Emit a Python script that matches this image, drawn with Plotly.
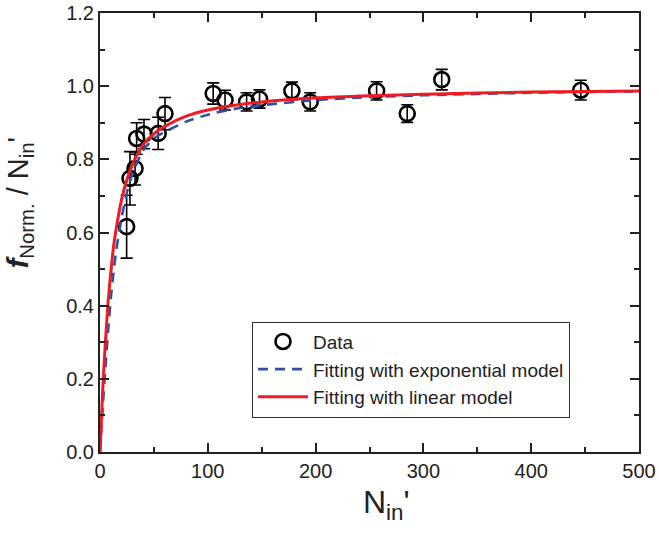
import plotly.graph_objects as go

# Measured data
n_in = [24.7, 27.8, 32.5, 34.0, 40.8, 54.0, 60.3, 105, 116, 136, 148, 178, 195, 256.6, 285, 317, 446]
f_norm = [0.616, 0.748, 0.775, 0.857, 0.869, 0.871, 0.925, 0.980, 0.962, 0.957, 0.965, 0.987, 0.957, 0.987, 0.925, 1.018, 0.989]
f_err = [0.086, 0.073, 0.045, 0.043, 0.040, 0.044, 0.044, 0.029, 0.027, 0.025, 0.025, 0.024, 0.025, 0.025, 0.024, 0.028, 0.027]

# Fitted curves
fit_x = [0, 2.5, 5, 7.5, 10, 12.5, 15, 20, 25, 30, 40, 50, 60, 80, 100, 125, 150, 200, 250, 300, 400, 500]
fit_exp = [0, 0.12, 0.23, 0.33, 0.42, 0.49, 0.55, 0.64, 0.71, 0.76, 0.825, 0.857, 0.875, 0.903, 0.922, 0.938, 0.948, 0.962, 0.970, 0.975, 0.982, 0.986]
fit_lin = [0, 0.17, 0.30, 0.41, 0.49, 0.56, 0.61, 0.69, 0.745, 0.785, 0.84, 0.87, 0.89, 0.918, 0.935, 0.948, 0.957, 0.968, 0.974, 0.978, 0.984, 0.987]

x_ticks = [0, 100, 200, 300, 400, 500]
y_ticks = [0.0, 0.2, 0.4, 0.6, 0.8, 1.0, 1.2]

x_title = "N<sub>in</sub>'"
y_title = "<b><i>f</i></b><sub>Norm.</sub> / N<sub>in</sub>'"

FONT = "Liberation Sans, Arial, sans-serif"

fig = go.Figure()
fig.add_trace(go.Scatter(
    x=n_in, y=f_norm, mode="markers", name="Data",
    marker=dict(symbol="circle-open", size=15, color="black", line=dict(width=2.6, color="black")),
    error_y=dict(type="data", array=f_err, visible=True, color="black", thickness=1.6, width=6),
))
fig.add_trace(go.Scatter(
    x=fit_x, y=fit_exp, mode="lines", name="Fitting with exponential model",
    line=dict(color="rgb(47,80,165)", width=2.6, dash="10px,7px", shape="spline", smoothing=0.6),
))
fig.add_trace(go.Scatter(
    x=fit_x, y=fit_lin, mode="lines", name="Fitting with linear model",
    line=dict(color="rgb(237,28,36)", width=3, shape="spline", smoothing=0.6),
))

axis_common = dict(
    showline=True, linewidth=2, linecolor="#222", mirror="allticks",
    ticks="inside", ticklen=9, tickwidth=1.6, tickcolor="#222",
    showgrid=False, zeroline=False, automargin=False,
    tickfont=dict(family=FONT, size=20, color="#222"),
)

fig.update_layout(
    width=659, height=533,
    margin=dict(l=100, r=20, t=13, b=81),
    paper_bgcolor="white", plot_bgcolor="white",
    showlegend=True,
    legend=dict(
        x=0.282, y=0.297, xanchor="left", yanchor="top",
        bordercolor="#333", borderwidth=1, bgcolor="white",
        font=dict(family=FONT, size=19, color="#222"),
        tracegroupgap=0, itemwidth=50, entrywidth=280, entrywidthmode="pixels",
    ),
    xaxis=dict(
        range=[0, 500], tickvals=x_ticks, ticktext=[str(v) for v in x_ticks],
        minor=dict(ticks="inside", ticklen=5, tickwidth=1.6, tickcolor="#222", dtick=50, showgrid=False),
        **axis_common,
    ),
    yaxis=dict(
        range=[0, 1.2], tickvals=y_ticks, ticktext=[f"{v:.1f}" for v in y_ticks],
        minor=dict(ticks="inside", ticklen=5, tickwidth=1.6, tickcolor="#222", dtick=0.1, showgrid=False),
        **axis_common,
    ),
    annotations=[
        dict(text=x_title, xref="paper", yref="paper", x=0.531, y=-0.068,
             xanchor="center", yanchor="top", showarrow=False,
             font=dict(family=FONT, size=32, color="#222")),
        dict(text=y_title, xref="paper", yref="paper", x=-0.148, y=0.567,
             xanchor="center", yanchor="middle", showarrow=False, textangle=-90,
             font=dict(family=FONT, size=29, color="#222")),
    ],
)

fig.write_html("out.html", config={"displayModeBar": False},
               post_script="document.body.style.margin='0px';")
